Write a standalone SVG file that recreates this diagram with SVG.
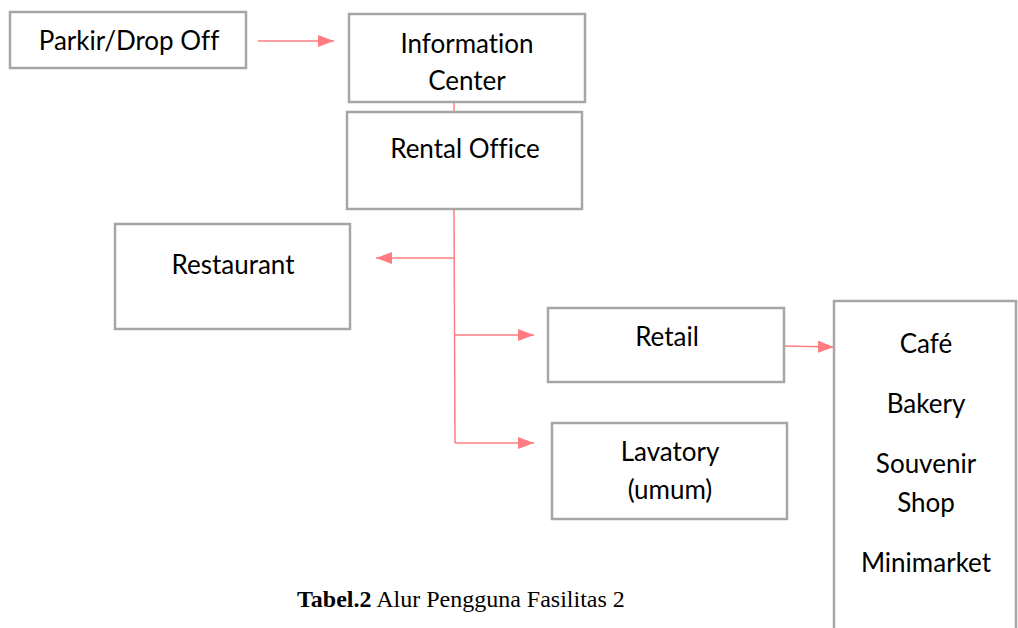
<svg xmlns="http://www.w3.org/2000/svg" width="1018" height="628" viewBox="0 0 1018 628">
<style>
.box{fill:#fff;stroke:#a6a6a6;stroke-width:2.5}
.t{font-family:Lato,"Open Sans",sans-serif;font-size:26px;fill:#000;text-anchor:middle;font-variant-ligatures:none}
.c{fill:none;stroke:#ff7c80;stroke-width:1.5}
.cap{font-family:"Liberation Serif",serif;font-size:24px;fill:#000}
</style>
<defs>
<marker id="ah" markerWidth="16" markerHeight="12" refX="16" refY="6" orient="auto" markerUnits="userSpaceOnUse">
<path d="M0,0 L16,6 L0,12 Z" fill="#ff7c80"/>
</marker>
</defs>
<rect width="1018" height="628" fill="#fff"/>
<g id="connectors">
<line class="c" x1="258" y1="41" x2="334" y2="41" marker-end="url(#ah)"/>
<line class="c" x1="454" y1="102" x2="454" y2="112"/>
<polyline class="c" points="454,209 455,443"/>
<line class="c" x1="455" y1="258" x2="376" y2="258" marker-end="url(#ah)"/>
<line class="c" x1="455" y1="335" x2="534" y2="335" marker-end="url(#ah)"/>
<line class="c" x1="455" y1="443" x2="534" y2="443" marker-end="url(#ah)"/>
<line class="c" x1="784" y1="346" x2="834" y2="347" marker-end="url(#ah)"/>
</g>
<g id="parkir"><rect class="box" x="10" y="12" width="236" height="56"/><text class="t" x="129" y="50">Parkir/Drop Off</text></g>
<g id="info"><rect class="box" x="349" y="14" width="236" height="88"/><text class="t" x="467" y="53">Information</text><text class="t" x="467" y="90">Center</text></g>
<g id="rental"><rect class="box" x="347" y="112" width="235" height="97"/><text class="t" x="465" y="158">Rental Office</text></g>
<g id="restaurant"><rect class="box" x="115" y="224" width="235" height="105"/><text class="t" x="233" y="274">Restaurant</text></g>
<g id="retail"><rect class="box" x="548" y="308" width="236" height="74"/><text class="t" x="667" y="346">Retail</text></g>
<g id="lavatory"><rect class="box" x="552" y="423" width="235" height="96"/><text class="t" x="670" y="461">Lavatory</text><text class="t" x="670" y="499">(umum)</text></g>
<g id="shops"><path class="box" d="M834,630 L834,301 L1016,301 L1016,630"/>
<text class="t" x="926" y="353">Café</text>
<text class="t" x="926" y="413">Bakery</text>
<text class="t" x="926" y="473">Souvenir</text>
<text class="t" x="926" y="512">Shop</text>
<text class="t" x="926" y="572">Minimarket</text></g>
<text class="cap" x="297" y="607"><tspan font-weight="bold">Tabel.2</tspan> Alur Pengguna Fasilitas 2</text>
</svg>
